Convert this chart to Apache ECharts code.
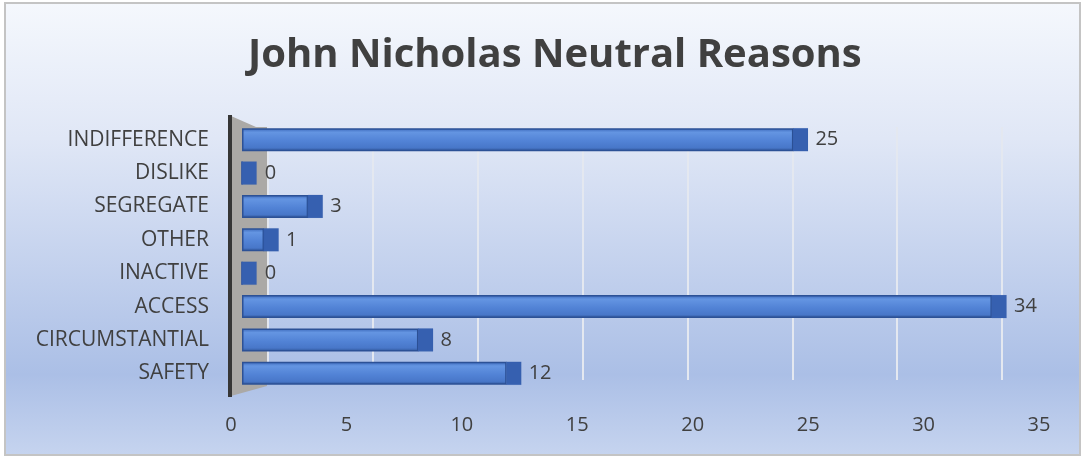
<!DOCTYPE html>
<html>
<head>
<meta charset="utf-8">
<script src="https://cdn.jsdelivr.net/npm/echarts@6/dist/echarts.min.js"></script>
<style>
  html, body { margin: 0; padding: 0; }
  #chart { width: 1083px; height: 457px; }
</style>
</head>
<body>
<div id="chart"></div>
<script>
const categories = ['INDIFFERENCE', 'DISLIKE', 'SEGREGATE', 'OTHER', 'INACTIVE', 'ACCESS', 'CIRCUMSTANTIAL', 'SAFETY']
const counts = [25, 0, 3, 1, 0, 34, 8, 12]
const axisMin = 0
const axisMax = 35
const axisStep = 5

const font = '"Open Sans", "Noto Sans", sans-serif'
const textColor = '#404040'

const chart = echarts.init(document.getElementById('chart'))

const option = {
  animation: false,
  title: {
    text: 'John Nicholas Neutral Reasons',
    left: 243,
    top: 31,
    textStyle: { fontFamily: font, fontSize: 40, fontWeight: 'bold', color: textColor }
  },
  graphic: [
    {
      // chart area background + border
      type: 'rect', z: -10,
      shape: { x: 5, y: 3, width: 1075, height: 452 },
      style: {
        stroke: '#c4c4c4', lineWidth: 2,
        fill: new echarts.graphic.LinearGradient(0, 0, 0, 1, [
          { offset: 0, color: '#f5f8fd' },
          { offset: 0.3, color: '#e0e7f6' },
          { offset: 0.82, color: '#abbfe6' },
          { offset: 1, color: '#c6d4ef' }
        ])
      }
    },
    {
      // side wall of the 3d plot
      type: 'polygon', z: -5,
      shape: { points: [[231, 116], [256, 127], [267, 127], [267, 386], [231, 396]] },
      style: { fill: '#aba9a6' }
    },
    {
      type: 'line', z: 1,
      shape: { x1: 230, y1: 115, x2: 230, y2: 397 },
      style: { stroke: '#363636', lineWidth: 4 }
    }
  ],
  grid: [
    { left: 242, right: 69, top: 123, bottom: 67 },
    { left: 268, right: 81, top: 127, bottom: 77 },
    { left: 231, right: 44, top: 123, bottom: 67 }
  ],
  xAxis: [
    {
      gridIndex: 0, type: 'value', min: axisMin, max: axisMax, interval: axisStep,
      axisLine: { show: false }, axisTick: { show: false },
      axisLabel: { show: false }, splitLine: { show: false }
    },
    {
      gridIndex: 1, type: 'value', min: axisMin, max: axisMax, interval: axisStep,
      axisLine: { show: false }, axisTick: { show: false }, axisLabel: { show: false },
      splitLine: { show: true, lineStyle: { color: '#e4e8f0', width: 2 } }
    },
    {
      gridIndex: 2, type: 'value', min: axisMin, max: axisMax, interval: axisStep,
      axisLine: { show: false }, axisTick: { show: false }, splitLine: { show: false },
      axisLabel: { margin: 25, fontFamily: font, fontSize: 20, color: textColor }
    }
  ],
  yAxis: [
    {
      gridIndex: 0, type: 'category', data: categories, inverse: true,
      axisLine: { show: false }, axisTick: { show: false },
      axisLabel: { margin: 33, fontFamily: font, fontSize: 21, color: textColor }
    },
    { gridIndex: 1, type: 'category', data: categories, show: false },
    { gridIndex: 2, type: 'category', data: categories, show: false }
  ],
  series: [
    {
      type: 'bar',
      xAxisIndex: 0, yAxisIndex: 0,
      data: counts,
      barWidth: 23,
      itemStyle: {
        borderColor: '#2c5196',
        borderWidth: 1.5,
        color: new echarts.graphic.LinearGradient(0, 0, 0, 1, [
          { offset: 0, color: '#3a67b9' },
          { offset: 0.18, color: '#6495e2' },
          { offset: 0.55, color: '#5283d6' },
          { offset: 0.85, color: '#4877c9' },
          { offset: 1, color: '#2f5597' }
        ])
      },
      label: {
        show: true, position: 'right', distance: 22,
        fontFamily: font, fontSize: 20, color: textColor
      }
    },
    {
      // end cap of each bar
      type: 'pictorialBar',
      xAxisIndex: 0, yAxisIndex: 0,
      data: counts,
      symbol: 'rect',
      symbolSize: [15, 23],
      symbolPosition: 'end',
      symbolOffset: [15, 0],
      z: 3,
      itemStyle: { color: '#3660b0', borderColor: '#2a4d8f', borderWidth: 1 }
    }
  ]
}

chart.setOption(option)
</script>
</body>
</html>
